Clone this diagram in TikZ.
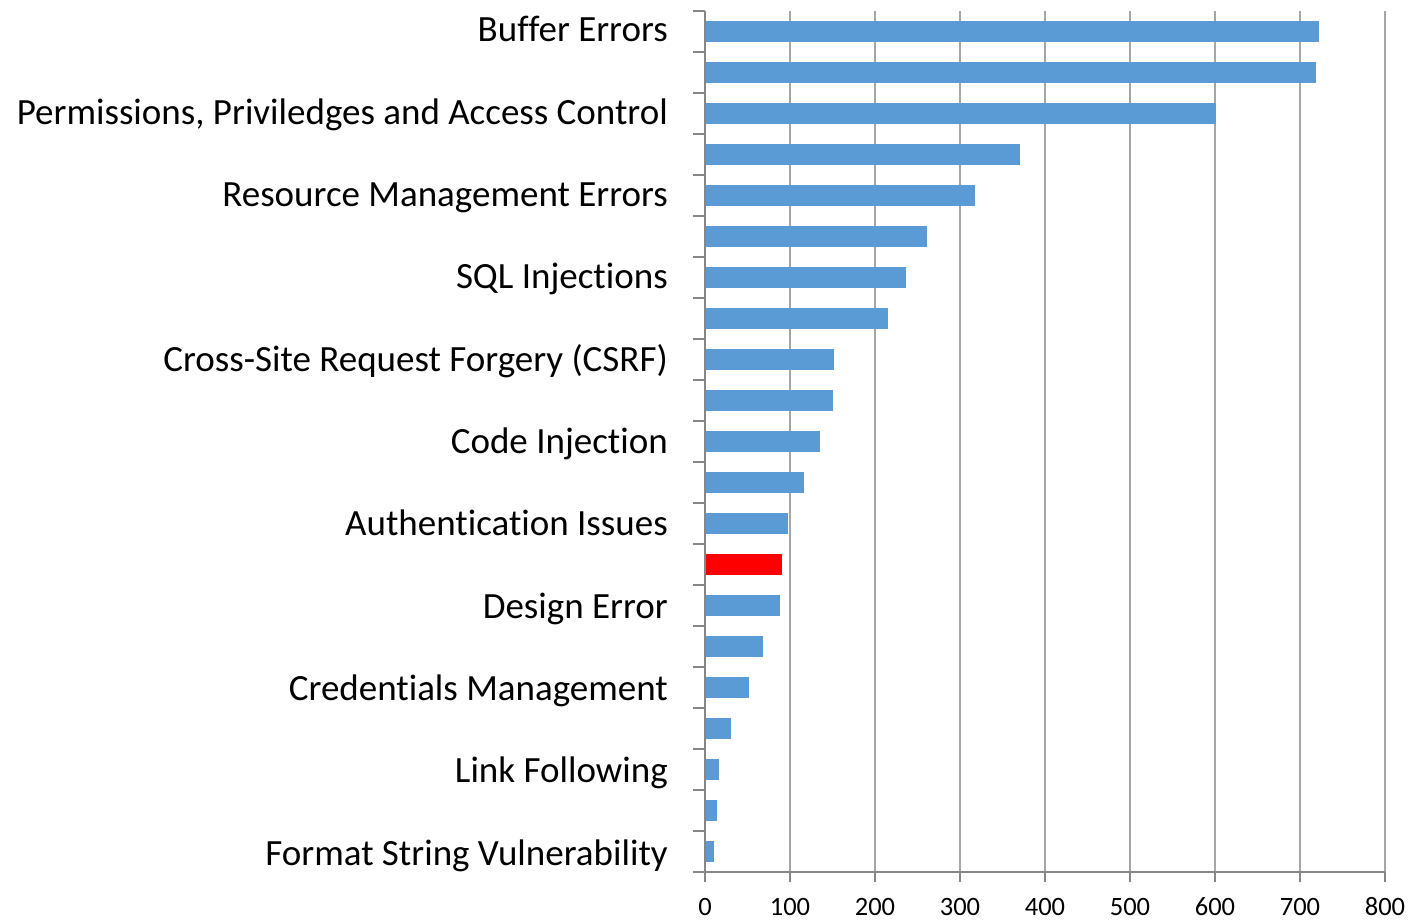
\documentclass[tikz,border=0pt]{standalone}
\usepackage{fontspec}
\setmainfont{Carlito}[Ligatures=NoCommon]
\definecolor{barblue}{HTML}{5B9BD5}
\definecolor{gridgray}{HTML}{A6A6A6}
\definecolor{axisgray}{HTML}{868686}
\begin{document}
\begin{tikzpicture}[x=1pt,y=-1pt,
  grid/.style={draw=gridgray,line width=1.3pt},
  axis/.style={draw=axisgray,line width=1.3pt},
  bar/.style={fill=barblue},
  hot/.style={fill=red},
  catlabel/.style={anchor=base east,inner sep=0pt,font=\fontsize{37}{42}\selectfont},
  ticklabel/.style={anchor=center,inner sep=0pt,font=\fontsize{26.5}{30}\selectfont}]
\useasboundingbox (0,0) rectangle (1409,921);
% value scale: 0 at x=705, 85 px per 100
\def\xz{705}
\def\sc{0.85}
\def\yt{11}
\def\dy{41}
\def\yb{872}
% vertical grid lines
\foreach \v in {100,200,...,800}{
  \draw[grid] ({\xz+\sc*\v},\yt) -- ({\xz+\sc*\v},\yb);
}
% bars
\foreach \val [count=\i] in {722,719,601,371,318,261,236,215,152,151,135,116,98,91,88,68,52,31,16,14,11}{
  \pgfmathsetmacro\yc{\yt+\dy*(\i-0.5)}
  \ifnum\i=14
    \fill[hot] (\xz,\yc-10.5) rectangle ({\xz+\sc*\val},\yc+10.5);
  \else
    \fill[bar] (\xz,\yc-10.5) rectangle ({\xz+\sc*\val},\yc+10.5);
  \fi
}
% axes
\draw[axis] (\xz,\yt) -- (\xz,\yb+0.65);
\draw[axis] (\xz-12,\yb) -- ({\xz+\sc*800},\yb);
\foreach \i in {0,...,20}{
  \draw[axis] (\xz-12,{\yt+\dy*\i}) -- (\xz,{\yt+\dy*\i});
}
\foreach \v in {0,100,...,800}{
  \draw[axis] ({\xz+\sc*\v},\yb) -- ({\xz+\sc*\v},\yb+10);
  \node[ticklabel] (t\v) at ({\xz+\sc*\v},907) {\v};
}
% category labels (every second category is labelled)
\foreach \txt [count=\k] in {Buffer Errors,{Permissions, Priviledges and Access Control},Resource Management Errors,SQL Injections,Cross-Site Request Forgery (CSRF),Code Injection,Authentication Issues,Design Error,Credentials Management,Link Following,Format String Vulnerability}{
  \pgfmathsetmacro\yc{41.7+82.33*(\k-1)}
  \node[catlabel] (c\k) at (668,\yc) {\txt};
}
\end{tikzpicture}
\end{document}
